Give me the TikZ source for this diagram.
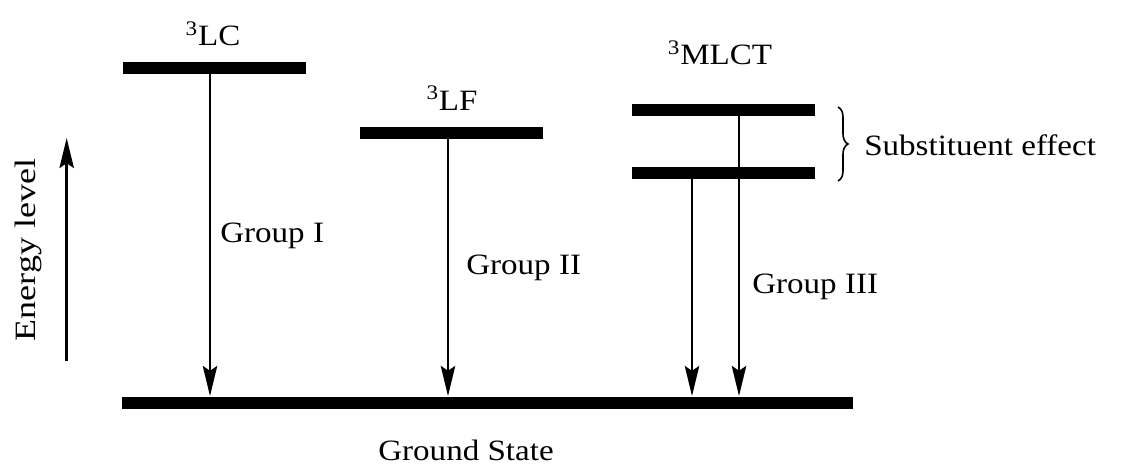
\documentclass[tikz,border=0pt]{standalone}
\usepackage{fontspec}
\setmainfont{Liberation Serif}
\usetikzlibrary{arrows.meta,decorations.pathreplacing}

\newcommand{\wide}[1]{\scalebox{1.12}[1]{#1}}
\tikzset{
	level/.style={line width=0.3cm},
	decay/.style={line width=0.06cm, ->},
	lbl/.style={inner sep=0pt, font=\fontsize{21}{24}\selectfont},
}

\begin{document}
\begin{tikzpicture}[>={Stealth[length=7.5mm, width=3.6mm, inset=1.2mm]}]
	\useasboundingbox (0,0) rectangle (28.15,11.7);
	
	% --- Cac muc nang luong ---
	\draw[level] (3.05,1.625) -- (21.325,1.625);   % ground state
	\draw[level] (3.075,9.99) -- (7.65,9.99);      % 3LC
	\draw[level] (9.0,8.375) -- (13.575,8.375);    % 3LF
	\draw[level] (15.8,8.94) -- (20.375,8.94);     % 3MLCT (tren)
	\draw[level] (15.8,7.375) -- (20.375,7.375);   % 3MLCT (duoi)
	
	% Diem dau / cuoi cua cac mui ten
	\coordinate (lcTop) at (5.25,9.99);
	\coordinate (lcEnd) at (5.25,1.8);
	\coordinate (lfTop) at (11.2,8.375);
	\coordinate (lfEnd) at (11.2,1.8);
	\coordinate (mlA) at (17.3,7.375);
	\coordinate (mlAEnd) at (17.3,1.8);
	\coordinate (mlB) at (18.475,8.94);
	\coordinate (mlBEnd) at (18.475,1.8);
	
	% Mui ten chuyen muc
	\draw[decay] (lcTop) -- (lcEnd);
	\draw[decay] (lfTop) -- (lfEnd);
	\draw[decay] (mlA) -- (mlAEnd);
	\draw[decay] (mlB) -- (mlBEnd);
	
	% Truc nang luong
	\coordinate (eLow) at (1.667,2.675);
	\coordinate (eHigh) at (1.667,8.25);
	\draw[decay] (eLow) -- (eHigh);
	\node[lbl, rotate=90] (energy) at (0.7,5.45) {\scalebox{1.22}[1]{Energy level}};
	
	% Ngoac nhon
	\coordinate (brTop) at (20.95,9.025);
	\coordinate (brBot) at (20.95,7.175);
	\draw[line width=0.04cm, decorate, decoration={brace, amplitude=0.25cm}] (brTop) -- (brBot);
	\node[lbl, anchor=west] (subst) at (21.6,8.075) {\wide{Substituent effect}};
	
	% Nhan
	\node[lbl] (lc) at (5.325,10.85) {\wide{\textsuperscript{3}LC}};
	\node[lbl] (lf) at (11.3,9.25) {\wide{\textsuperscript{3}LF}};
	\node[lbl] (mlct) at (18.0,10.375) {\wide{\textsuperscript{3}MLCT}};
	\node[lbl, anchor=west] (g1) at (5.5,5.8) {\wide{Group I}};
	\node[lbl, anchor=west] (g2) at (11.65,5.0) {\wide{Group II}};
	\node[lbl, anchor=west] (g3) at (18.8,4.525) {\wide{Group III}};
	\node[lbl] (gs) at (11.65,0.45) {\wide{Ground State}};
	
\end{tikzpicture}
\end{document}
